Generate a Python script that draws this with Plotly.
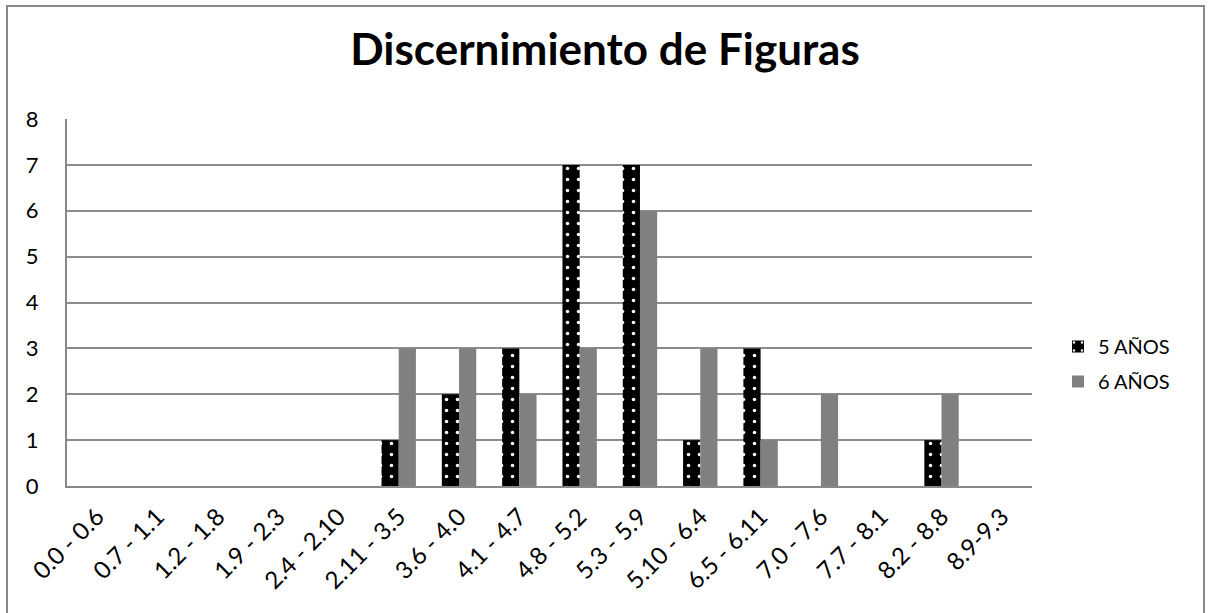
import plotly.graph_objects as go

categories = ["0.0 - 0.6", "0.7 - 1.1", "1.2 - 1.8", "1.9 - 2.3", "2.4 - 2.10", "2.11 - 3.5",
              "3.6 - 4.0", "4.1 - 4.7", "4.8 - 5.2", "5.3 - 5.9", "5.10 - 6.4", "6.5 - 6.11",
              "7.0 - 7.6", "7.7 - 8.1", "8.2 - 8.8", "8.9-9.3"]
cinco = [0, 0, 0, 0, 0, 1, 2, 3, 7, 7, 1, 3, 0, 0, 1, 0]
seis = [0, 0, 0, 0, 0, 3, 3, 2, 3, 6, 3, 1, 2, 0, 2, 0]
y_ticks = [0, 1, 2, 3, 4, 5, 6, 7, 8]

FONT = "Lato, 'Open Sans', sans-serif"

fig = go.Figure()
fig.add_trace(go.Bar(
    x=categories, y=cinco, name="5 AÑOS", legendgroup="a",
    marker=dict(color="#000000", line=dict(width=0),
                pattern=dict(shape=".", fgcolor="#ffffff", bgcolor="#000000",
                             size=11, solidity=0.08, fillmode="replace")),
))
fig.add_trace(go.Bar(
    x=categories, y=seis, name="6 AÑOS", legendgroup="b",
    marker=dict(color="#808080", line=dict(width=0)),
))

W, H = 1210, 613
L, R, T, B = 67, 1032, 119, 486
pw, ph = R - L, B - T

def px(x):
    return (x - L) / pw

def py(y):
    return (B - y) / ph

fig.add_shape(type="rect", xref="paper", yref="paper",
              x0=px(7), x1=px(1204), y0=py(630), y1=py(6),
              line=dict(color="#888888", width=2), fillcolor="rgba(0,0,0,0)", layer="below")

fig.update_layout(
    width=W, height=H,
    margin=dict(l=L, r=W - R, t=T, b=H - B, pad=0),
    paper_bgcolor="white", plot_bgcolor="white",
    barmode="group", bargap=0.43, bargroupgap=0,
    title=dict(text="<b>Discernimiento de Figuras</b>", x=0.5, xanchor="center",
               y=1 - 50 / H, yanchor="middle",
               font=dict(family=FONT, size=44, color="#000000")),
    font=dict(family=FONT, color="#000000"),
    legend=dict(x=px(1058), y=py(364), xanchor="left", yanchor="middle",
                font=dict(size=20, family=FONT, color="#000000"),
                bgcolor="rgba(0,0,0,0)", tracegroupgap=6, itemwidth=30),
    xaxis=dict(tickangle=-45, tickfont=dict(size=24), showgrid=False,
               showline=True, linecolor="#888888", linewidth=2,
               ticks="", range=[-0.5, 15.5], ticklabelstandoff=5),
    yaxis=dict(range=[0, 8], tickvals=y_ticks, tickfont=dict(size=22),
               showgrid=True, gridcolor="#8c8c8c", gridwidth=1.5,
               showline=True, linecolor="#888888", linewidth=2,
               zeroline=False, ticks="", ticklabelstandoff=22),
)

fig.write_html("out.html", config={"displayModeBar": False},
               post_script="document.body.style.margin='0';document.body.style.overflow='hidden';")
